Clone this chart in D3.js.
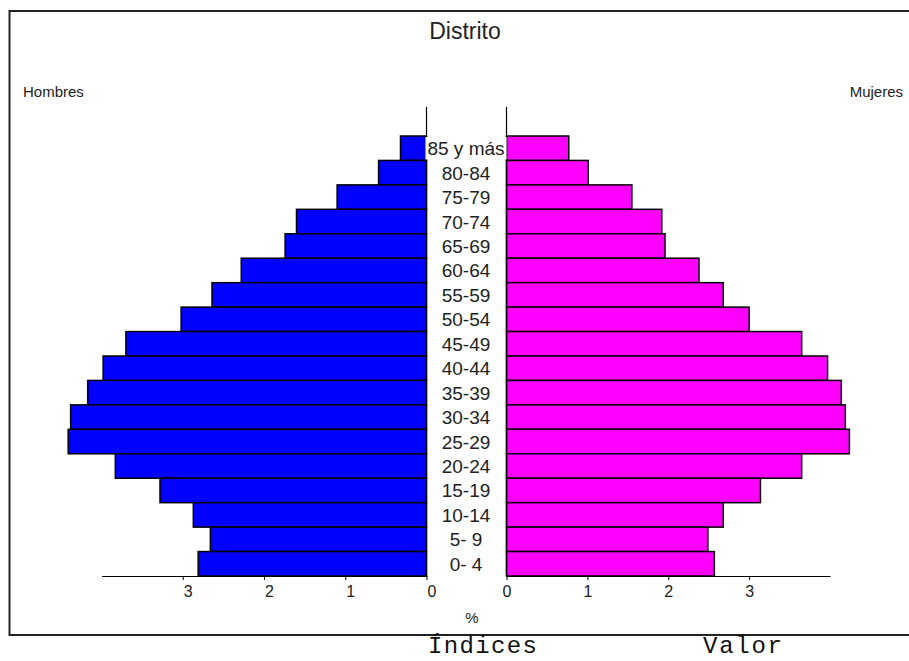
<!DOCTYPE html>
<html>
<head>
<meta charset="utf-8">
<script src="https://cdn.jsdelivr.net/npm/d3@7"></script>
<style>
  html, body { margin: 0; padding: 0; background: #fff; }
  svg { display: block; }
</style>
</head>
<body>
<svg id="chart" width="909" height="661"></svg>
<script>
// ---- Data (percent of population) ----
const ageGroups = ["85 y más","80-84","75-79","70-74","65-69","60-64","55-59","50-54","45-49",
                   "40-44","35-39","30-34","25-29","20-24","15-19","10-14","5- 9","0- 4"];
const hombres = [0.32,0.59,1.10,1.60,1.74,2.28,2.64,3.02,3.70,3.98,4.17,4.38,4.41,3.83,3.28,2.87,2.66,2.81];
const mujeres = [0.77,1.01,1.55,1.92,1.96,2.38,2.68,3.00,3.65,3.97,4.14,4.19,4.24,3.65,3.14,2.68,2.49,2.57];
const tickValues = [0,1,2,3];
const title = "Distrito";
const leftLabel = "Hombres";
const rightLabel = "Mujeres";
const unitLabel = "%";
const footer = ["Índices", "Valor"];

const svg = d3.select("#chart");
const sans = "'Liberation Sans', Arial, sans-serif";
const mono = "'Liberation Mono', 'Courier New', monospace";

// frame
svg.append("rect").attr("x", 9.5).attr("y", 11).attr("width", 920).attr("height", 624)
  .attr("fill", "none").attr("stroke", "#222").attr("stroke-width", 2);

// scales
const y = d3.scaleBand().domain(ageGroups).range([136, 576]).padding(0);
const xL = d3.scaleLinear().domain([0, 4]).range([426.5, 101.5]);
const xR = d3.scaleLinear().domain([0, 4]).range([506.5, 830]);
const bw = y.bandwidth();

// bars
svg.append("g").selectAll("rect").data(ageGroups).join("rect")
  .attr("x", (d, i) => xL(hombres[i]))
  .attr("y", d => y(d))
  .attr("width", (d, i) => xL(0) - xL(hombres[i]))
  .attr("height", bw)
  .attr("fill", "#0000ff").attr("stroke", "#000").attr("stroke-width", 1.5);

svg.append("g").selectAll("rect").data(ageGroups).join("rect")
  .attr("x", xR(0))
  .attr("y", d => y(d))
  .attr("width", (d, i) => xR(mujeres[i]) - xR(0))
  .attr("height", bw)
  .attr("fill", "#ff00ff").attr("stroke", "#000").attr("stroke-width", 1.5);

// vertical axis lines
const yTop = y.range()[0] - 29, yBot = y.range()[1];
[xL(0), xR(0)].forEach(x => {
  svg.append("line").attr("x1", x).attr("x2", x).attr("y1", yTop).attr("y2", yBot)
    .attr("stroke", "#000").attr("stroke-width", 1.2);
});

// age labels
const labG = svg.append("g");
const midX = (xL(0) + xR(0)) / 2 - 0.5;
ageGroups.forEach(d => {
  const g = labG.append("g");
  const t = g.append("text").attr("x", midX).attr("y", y(d) + bw / 2 + 7)
    .attr("text-anchor", "middle").attr("font-family", sans).attr("font-size", 19)
    .attr("fill", "#222").text(d);
  const bb = t.node().getBBox();
  g.insert("rect", "text").attr("x", bb.x - 2).attr("y", y(d) + 1)
    .attr("width", bb.width + 4).attr("height", bw - 2).attr("fill", "#fff");
});

// bottom axes
function styleAxis(g, dx) {
  g.select(".domain").attr("stroke", "#000").attr("stroke-width", 1.2);
  g.selectAll(".tick line").attr("stroke", "#000");
  g.selectAll(".tick text").attr("font-family", sans).attr("font-size", 16)
    .attr("fill", "#222").attr("dx", dx).attr("dy", "0.85em");
}
svg.append("g").attr("transform", `translate(0,${yBot})`)
  .call(d3.axisBottom(xL).tickValues(tickValues).tickSize(4).tickSizeOuter(0).tickFormat(d3.format("d")))
  .call(g => styleAxis(g, 5));
svg.append("g").attr("transform", `translate(0,${yBot})`)
  .call(d3.axisBottom(xR).tickValues(tickValues).tickSize(4).tickSizeOuter(0).tickFormat(d3.format("d")))
  .call(g => styleAxis(g, 0));

// texts
svg.append("text").attr("x", 465).attr("y", 39).attr("text-anchor", "middle")
  .attr("font-family", sans).attr("font-size", 23).attr("fill", "#222").text(title);
svg.append("text").attr("x", 23).attr("y", 97)
  .attr("font-family", sans).attr("font-size", 15).attr("fill", "#222").text(leftLabel);
svg.append("text").attr("x", 903).attr("y", 97).attr("text-anchor", "end")
  .attr("font-family", sans).attr("font-size", 15).attr("fill", "#222").text(rightLabel);
svg.append("text").attr("x", 472).attr("y", 623).attr("text-anchor", "middle")
  .attr("font-family", sans).attr("font-size", 15).attr("fill", "#222").text(unitLabel);
svg.append("text").attr("x", 428).attr("y", 653)
  .attr("font-family", mono).attr("font-size", 24).attr("fill", "#111")
  .attr("textLength", 109).attr("lengthAdjust", "spacing").text(footer[0]);
svg.append("text").attr("x", 703).attr("y", 653)
  .attr("font-family", mono).attr("font-size", 24).attr("fill", "#111")
  .attr("textLength", 79).attr("lengthAdjust", "spacing").text(footer[1]);
</script>
</body>
</html>
